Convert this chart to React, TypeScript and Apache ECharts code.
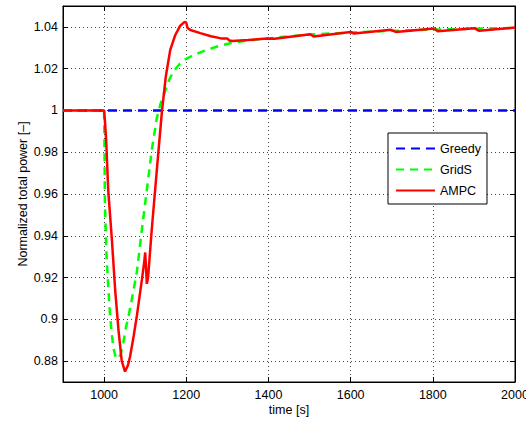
import React, { useEffect, useRef } from "react";
import * as echarts from "echarts";

const greedyTime = [900, 2000];
const greedyPower = [1, 1];

const gridsTime = [900, 1000, 1001, 1002, 1006, 1013, 1018, 1023, 1028, 1034, 1040, 1047, 1053, 1060, 1067, 1080, 1092, 1104, 1116, 1128, 1137, 1150, 1160, 1173, 1185, 1198, 1215, 1234, 1255, 1275, 1307, 1350, 1400, 1450, 1500, 1600, 1700, 1800, 1900, 2000];
const gridsPower = [1, 1, 0.98, 0.955, 0.93, 0.906, 0.894, 0.886, 0.882, 0.881, 0.883, 0.889, 0.896, 0.902, 0.909, 0.923, 0.943, 0.962, 0.981, 0.996, 1.003, 1.01, 1.0155, 1.0197, 1.0225, 1.0245, 1.0262, 1.0278, 1.0293, 1.0306, 1.0322, 1.0335, 1.0345, 1.0355, 1.0363, 1.0373, 1.0381, 1.0387, 1.0391, 1.0395];

const ampcTime = [900, 1000, 1002, 1005, 1010, 1019, 1027, 1035, 1043, 1051, 1058, 1063, 1072, 1080, 1092, 1098, 1100, 1102, 1104, 1107, 1116, 1129, 1141, 1150, 1161, 1173, 1185, 1196, 1200, 1203, 1210, 1234, 1260, 1285, 1300, 1305, 1312, 1350, 1397, 1415, 1502, 1510, 1600, 1608, 1698, 1710, 1803, 1812, 1901, 1913, 2000];
const ampcPower = [1, 1, 0.995, 0.986, 0.962, 0.938, 0.914, 0.895, 0.88, 0.875, 0.878, 0.882, 0.892, 0.902, 0.919, 0.928, 0.932, 0.925, 0.917, 0.92, 0.943, 0.973, 1.0, 1.016, 1.029, 1.036, 1.0405, 1.0424, 1.042, 1.0395, 1.0385, 1.037, 1.0355, 1.0345, 1.0344, 1.0335, 1.0332, 1.0337, 1.0344, 1.0343, 1.0365, 1.0354, 1.0376, 1.0368, 1.0386, 1.0376, 1.0392, 1.0379, 1.0394, 1.0381, 1.0397];

const xTicks = [1000, 1200, 1400, 1600, 1800, 2000];
const yTicks = [0.88, 0.9, 0.92, 0.94, 0.96, 0.98, 1, 1.02, 1.04];

const zip = (t: number[], v: number[]) => t.map((x, i) => [x, v[i]]);

const FONT = "'Liberation Sans', Arial, Helvetica, sans-serif";

export default function App() {
  const ref = useRef<HTMLDivElement>(null);
  useEffect(() => {
    if (!ref.current) return;
    const chart = echarts.init(ref.current, undefined, { renderer: "svg" });
    const gridLine = { show: true, lineStyle: { color: "#444", type: [1, 3] as any, width: 1 } };
    const baseX = {
      type: "value" as const,
      min: 900,
      max: 2000,
      axisLine: { show: true, onZero: false, lineStyle: { color: "#000", width: 1 } },
      axisTick: { show: true, inside: true, length: 5, customValues: xTicks, lineStyle: { color: "#000" } },
    };
    const baseY = {
      type: "value" as const,
      min: 0.87,
      max: 1.05,
      axisLine: { show: true, onZero: false, lineStyle: { color: "#000", width: 1 } },
      axisTick: { show: true, inside: true, length: 5, customValues: yTicks, lineStyle: { color: "#000" } },
    };
    chart.setOption({
      animation: false,
      textStyle: { fontFamily: FONT },
      grid: {
        left: 63,
        right: 11,
        top: 6,
        bottom: 39,
        show: true,
        borderColor: "#000",
        borderWidth: 1,
        backgroundColor: "#fff",
        containLabel: false,
        outerBoundsMode: "none",
      },
      legend: {
        orient: "vertical",
        left: 388,
        top: 133,
        padding: [9, 6, 7, 7],
        itemWidth: 39,
        itemHeight: 14,
        itemGap: 8,
        borderColor: "#000",
        borderWidth: 1,
        borderRadius: 0,
        backgroundColor: "#fff",
        itemStyle: { opacity: 0 },
        textStyle: { fontSize: 12.5, color: "#000", fontFamily: FONT },
        data: ["Greedy", "GridS", "AMPC"],
      },
      xAxis: [
        {
          ...baseX,
          position: "bottom",
          name: "time [s]",
          nameLocation: "middle",
          nameGap: 21,
          nameMoveOverlap: false,
          nameTextStyle: { fontSize: 12.5, color: "#000", fontFamily: FONT },
          axisLabel: {
            customValues: xTicks,
            color: "#000",
            fontSize: 12.5,
            margin: 6,
            fontFamily: FONT,
            formatter: (v: number) => String(v),
          },
          splitLine: gridLine,
        },
        { ...baseX, position: "top", axisLabel: { show: false }, splitLine: { show: false } },
      ],
      yAxis: [
        {
          ...baseY,
          position: "left",
          name: "Normalized total power [\u2013]",
          nameLocation: "middle",
          nameGap: 34,
          nameMoveOverlap: false,
          nameTextStyle: { fontSize: 12.5, color: "#000", fontFamily: FONT },
          axisLabel: {
            customValues: yTicks,
            color: "#000",
            fontSize: 12.5,
            margin: 5,
            fontFamily: FONT,
            formatter: (v: number) => String(Number(v.toFixed(2))),
          },
          splitLine: gridLine,
        },
        { ...baseY, position: "right", axisLabel: { show: false }, splitLine: { show: false } },
      ],
      series: [
        {
          name: "Greedy",
          type: "line",
          data: zip(greedyTime, greedyPower),
          showSymbol: false,
          symbol: "none",
          lineStyle: { color: "#0000ff", width: 2.5, type: [9, 6] as any },
          itemStyle: { color: "#0000ff" },
          z: 2,
        },
        {
          name: "GridS",
          type: "line",
          data: zip(gridsTime, gridsPower),
          showSymbol: false,
          symbol: "none",
          lineStyle: { color: "#00ff00", width: 2.5, type: [8, 6] as any },
          itemStyle: { color: "#00ff00" },
          z: 3,
        },
        {
          name: "AMPC",
          type: "line",
          data: zip(ampcTime, ampcPower),
          showSymbol: false,
          symbol: "none",
          lineStyle: { color: "#ff0000", width: 2.5 },
          itemStyle: { color: "#ff0000" },
          z: 4,
        },
      ],
    });
    return () => chart.dispose();
  }, []);
  return <div ref={ref} style={{ width: 526, height: 421, position: "absolute", left: 0, top: 0 }} />;
}
